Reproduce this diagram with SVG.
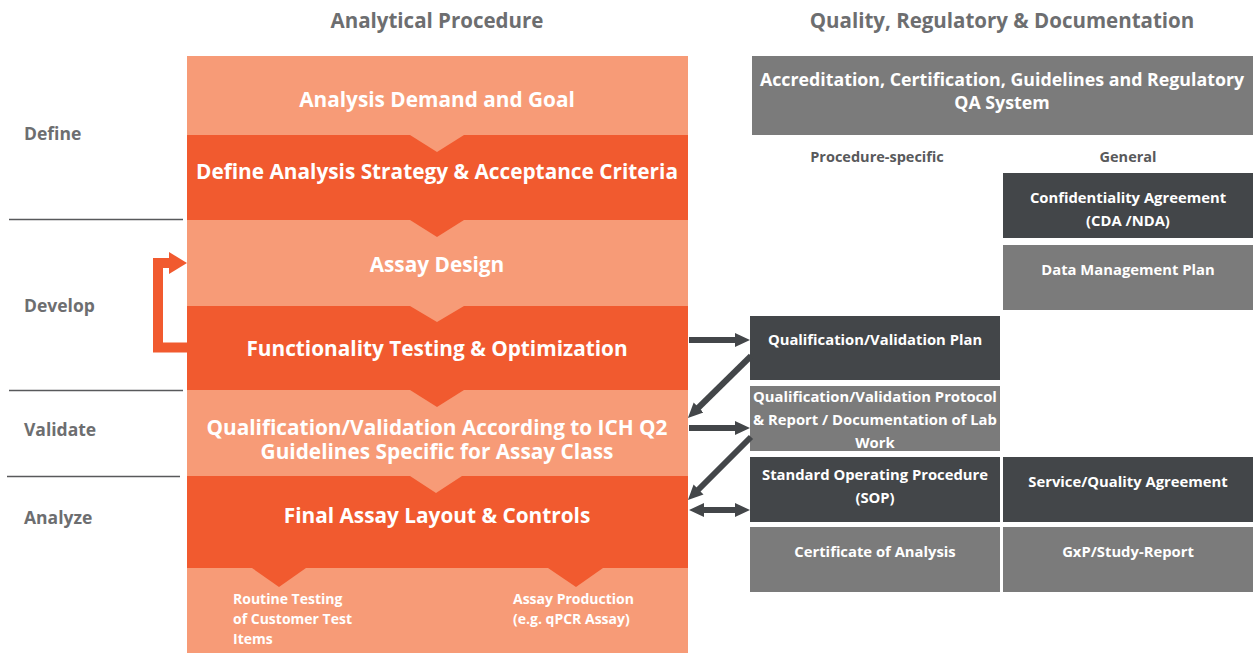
<svg xmlns="http://www.w3.org/2000/svg" width="1256" height="653" viewBox="0 0 1256 653">
<defs>
<style>
text{font-family:"Open Sans","Noto Sans",sans-serif;font-weight:bold}
.hd{font-size:20.5px;fill:#6d6e70;text-anchor:middle}
.ph{font-size:17.5px;fill:#6d6e70}
.ot{font-size:20.8px;fill:#fff;text-anchor:middle}
.bt{font-size:14px;fill:#fff}
.gt{font-size:14.8px;fill:#fff;text-anchor:middle}
.st{font-size:14.5px;fill:#58595b;text-anchor:middle}
.lo{fill:#f79b77}
.do{fill:#f15a2f}
.dk{fill:#434649}
.gr{fill:#7b7b7b}
.sep{stroke:#58595b;stroke-width:1.5}
.con{stroke:#434649;stroke-width:6;fill:none}
</style>
<marker id="ah" markerUnits="userSpaceOnUse" markerWidth="16" markerHeight="16" refX="5" refY="7" orient="auto-start-reverse" viewBox="0 0 16 14">
<path d="M0,0 L15,7 L0,14 z" fill="#434649"/>
</marker>
</defs>

<text class="hd" x="437" y="28">Analytical Procedure</text>
<text class="hd" x="1002" y="28">Quality, Regulatory &amp; Documentation</text>

<g id="phases">
<text class="ph" x="24" y="140">Define</text>
<text class="ph" x="24" y="312">Develop</text>
<text class="ph" x="24" y="436">Validate</text>
<text class="ph" x="24" y="524">Analyze</text>
<line class="sep" x1="9" y1="219.5" x2="183" y2="219.5"/>
<line class="sep" x1="9" y1="390.5" x2="183" y2="390.5"/>
<line class="sep" x1="7" y1="476.5" x2="180" y2="476.5"/>
</g>

<g id="step1">
<rect class="lo" x="187" y="56" width="501" height="79"/>
<text class="ot" x="437" y="107">Analysis Demand and Goal</text>
</g>
<g id="step2">
<rect class="do" x="187" y="135" width="501" height="85"/>
<polygon class="lo" points="410,135 437,152 464,135"/>
<text class="ot" x="437" y="179">Define Analysis Strategy &amp; Acceptance Criteria</text>
</g>
<g id="step3">
<rect class="lo" x="187" y="220" width="501" height="86"/>
<polygon class="do" points="410,220 437,237 464,220"/>
<text class="ot" x="437" y="272">Assay Design</text>
</g>
<g id="step4">
<rect class="do" x="187" y="306" width="501" height="84"/>
<polygon class="lo" points="410,306 437,322 464,306"/>
<text class="ot" x="437" y="356">Functionality Testing &amp; Optimization</text>
</g>
<g id="step5">
<rect class="lo" x="187" y="390" width="501" height="86"/>
<polygon class="do" points="410,390 437,407 464,390"/>
<text class="ot" x="437" y="434.5">Qualification/Validation According to ICH Q2<tspan x="437" dy="24">Guidelines Specific for Assay Class</tspan></text>
</g>
<g id="step6">
<rect class="do" x="187" y="476" width="501" height="92"/>
<polygon class="lo" points="410,476 436,493 462,476"/>
<text class="ot" x="437" y="523">Final Assay Layout &amp; Controls</text>
</g>
<g id="outputs">
<rect class="lo" x="187" y="568" width="501" height="85"/>
<polygon class="do" points="252,568 279,587 306,568"/>
<polygon class="do" points="548,568 576,587 603,568"/>
<text class="bt" x="233" y="604">Routine Testing<tspan x="233" dy="20">of Customer Test</tspan><tspan x="233" dy="20">Items</tspan></text>
<text class="bt" x="513" y="604">Assay Production<tspan x="513" dy="20">(e.g. qPCR Assay)</tspan></text>
</g>

<g id="feedback">
<path d="M187,347.5 H158 V263 H171" fill="none" stroke="#f15a2f" stroke-width="10"/>
<polygon points="169,252 187,263 169,274" fill="#f15a2f"/>
</g>

<g id="qa-system">
<rect class="gr" x="752" y="56" width="501" height="79"/>
<text class="gt" x="1002" y="86" style="font-size:17.8px">Accreditation, Certification, Guidelines and Regulatory<tspan x="1002" dy="23">QA System</tspan></text>
</g>
<text class="st" x="877" y="162">Procedure-specific</text>
<text class="st" x="1128" y="162">General</text>

<g id="cda">
<rect class="dk" x="1003" y="173" width="250" height="65"/>
<text class="gt" x="1128" y="203">Confidentiality Agreement<tspan x="1128" dy="23">(CDA /NDA)</tspan></text>
</g>
<g id="dmp">
<rect class="gr" x="1003" y="245" width="250" height="65"/>
<text class="gt" x="1128" y="275">Data Management Plan</text>
</g>
<g id="qv-plan">
<rect class="dk" x="750" y="316" width="250" height="64"/>
<text class="gt" x="875" y="345">Qualification/Validation Plan</text>
</g>
<g id="qv-protocol">
<rect class="gr" x="750" y="386" width="250" height="65"/>
<text class="gt" x="875" y="402">Qualification/Validation Protocol<tspan x="875" dy="23">&amp; Report / Documentation of Lab</tspan><tspan x="875" dy="23">Work</tspan></text>
</g>
<g id="sop">
<rect class="dk" x="750" y="457" width="250" height="65"/>
<text class="gt" x="875" y="480">Standard Operating Procedure<tspan x="875" dy="23">(SOP)</tspan></text>
</g>
<g id="sqa">
<rect class="dk" x="1003" y="457" width="250" height="65"/>
<text class="gt" x="1128" y="487">Service/Quality Agreement</text>
</g>
<g id="coa">
<rect class="gr" x="750" y="527" width="250" height="65"/>
<text class="gt" x="875" y="557">Certificate of Analysis</text>
</g>
<g id="gxp">
<rect class="gr" x="1003" y="527" width="250" height="65"/>
<text class="gt" x="1128" y="557">GxP/Study-Report</text>
</g>

<g id="connectors">
<line class="con" x1="689" y1="340" x2="740" y2="340" marker-end="url(#ah)"/>
<line class="con" x1="751" y1="356" x2="695" y2="411" marker-end="url(#ah)"/>
<line class="con" x1="689" y1="428" x2="740" y2="428" marker-end="url(#ah)"/>
<line class="con" x1="751" y1="437" x2="695" y2="493" marker-end="url(#ah)"/>
<line class="con" x1="699" y1="510" x2="740" y2="510" marker-start="url(#ah)" marker-end="url(#ah)"/>
</g>
</svg>
